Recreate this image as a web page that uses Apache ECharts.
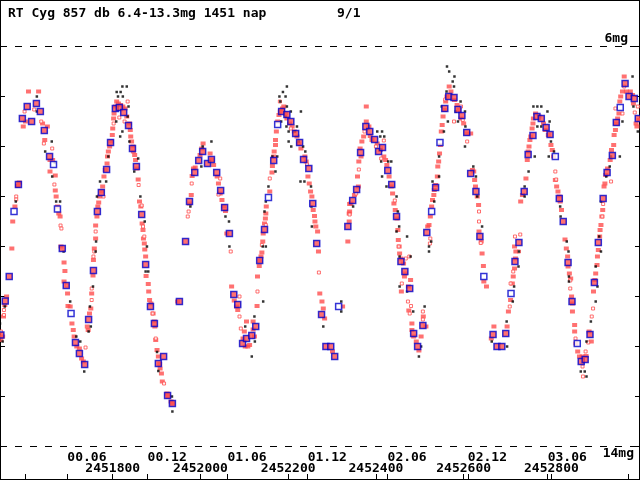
<!DOCTYPE html>
<html lang="en">
<head>
    <meta charset="utf-8">
    <title>RT Cyg</title>
    <script src="https://cdn.jsdelivr.net/npm/echarts@6/dist/echarts.min.js"></script>
    <style>
        body { margin: 0; background: #fff; }
    </style>
</head>
<body>
    <div id="main" style="width: 640px;height:480px;"></div>
    <script>
    // JD values are stored as JD - 2450000
    var JD0 = 2450000;
    var jdMin = 1543, jdMax = 3002;
    var magMin = 5.08, magMax = 14.68;
    var font = "'DejaVu Sans Mono', monospace";

    var jdTicks = [1600, 1800, 2000, 2200, 2400, 2600, 2800];
    var jdLabels = [1800, 2000, 2200, 2400, 2600, 2800];
    var monthTicks = [1696.5, 1879.5, 2061.5, 2244.5, 2426.5, 2609.5, 2791.5, 2974.5];
    var monthLabels = ['00.06', '00.12', '01.06', '01.12', '02.06', '02.12', '03.06'];
    var magTicks = [6, 7, 8, 9, 10, 11, 12, 13, 14];

    // red filled squares
    var redPts = [
        [1545, 11.88], [1549, 11.81], [1551, 11.41], [1554, 11.18], [1558, 11.01], [1570, 10.05], [1572, 9.51],
        [1577, 9.21], [1583, 8.80], [1587, 8.73], [1596, 7.61], [1601, 7.51], [1608, 6.91], [1631, 6.91],
        [1640, 7.55], [1645, 7.88], [1651, 7.61], [1657, 8.28], [1663, 8.28], [1657, 8.51], [1669, 8.59],
        [1669, 8.89], [1671, 9.01], [1674, 9.21], [1677, 9.35], [1680, 9.41], [1682, 10.01], [1689, 10.33],
        [1691, 10.50], [1689, 10.71], [1697, 10.95], [1698, 11.20], [1703, 11.21], [1707, 11.55], [1710, 11.68],
        [1712, 11.81], [1718, 12.01], [1724, 12.05], [1729, 12.25], [1733, 12.31], [1742, 11.61], [1744, 11.68],
        [1747, 11.35], [1750, 11.25], [1752, 10.95], [1755, 10.59], [1756, 10.28], [1758, 10.05], [1761, 9.85],
        [1761, 9.59], [1764, 9.41], [1766, 9.21], [1768, 9.13], [1770, 9.01], [1775, 8.91], [1777, 8.81],
        [1780, 8.61], [1783, 8.48], [1787, 8.35], [1788, 8.21], [1790, 8.11], [1793, 8.01], [1796, 7.91],
        [1799, 7.78], [1800, 7.65], [1802, 7.45], [1803, 7.35], [1806, 7.21], [1809, 7.11], [1813, 7.15],
        [1818, 7.18], [1823, 7.21], [1828, 7.25], [1832, 7.41], [1838, 7.55], [1840, 7.68], [1841, 7.81],
        [1843, 7.91], [1846, 8.01], [1847, 8.11], [1850, 8.18], [1852, 8.28], [1855, 8.45], [1858, 8.67],
        [1861, 9.11], [1864, 9.21], [1867, 9.55], [1869, 9.68], [1870, 9.85], [1872, 9.95], [1873, 10.07],
        [1875, 10.21], [1876, 10.60], [1881, 10.76], [1882, 10.91], [1884, 11.08], [1887, 11.15], [1892, 11.35],
        [1895, 11.51], [1896, 11.61], [1898, 11.88], [1901, 12.08], [1904, 12.21], [1907, 12.36], [1908, 12.45],
        [1911, 12.55], [1913, 12.71], [1924, 12.95], [1927, 13.01], [1933, 13.11], [1936, 13.15],
        [1948, 11.11], [1975, 9.15], [1979, 8.98], [1981, 8.60], [1984, 8.45], [1988, 8.43], [1999, 8.18],
        [2003, 8.05], [2006, 7.95], [2022, 8.15], [2026, 8.28], [2030, 8.38], [2038, 8.61], [2041, 8.75],
        [2045, 8.95], [2049, 9.08], [2053, 9.21], [2057, 9.30], [2060, 9.75], [2071, 10.81], [2077, 11.09],
        [2082, 11.21], [2085, 11.28], [2105, 11.51], [2100, 11.71], [2097, 11.85], [2102, 12.01], [2108, 12.01],
        [2112, 11.98], [2120, 11.51], [2120, 11.67], [2123, 11.81], [2129, 11.20], [2130, 10.61], [2134, 10.40],
        [2136, 10.30], [2138, 10.21], [2140, 10.13], [2142, 9.91], [2143, 9.75], [2146, 9.55], [2148, 9.45],
        [2149, 9.35], [2150, 9.21], [2158, 8.91], [2163, 8.53], [2164, 8.40], [2167, 8.21], [2168, 8.11],
        [2171, 7.98], [2171, 7.88], [2173, 7.71], [2176, 7.51], [2179, 7.38], [2182, 7.31], [2187, 7.25],
        [2190, 7.21], [2194, 7.35], [2197, 7.45], [2203, 7.55], [2209, 7.61], [2214, 7.71], [2220, 7.81],
        [2224, 7.95], [2229, 8.05], [2238, 8.21], [2241, 8.31], [2245, 8.61], [2248, 8.75], [2251, 8.91],
        [2254, 9.01], [2257, 9.28], [2260, 9.40], [2261, 9.51], [2263, 9.61], [2267, 9.71], [2269, 10.11],
        [2272, 10.95], [2277, 11.11], [2280, 11.25], [2283, 11.45], [2301, 12.11], [2324, 11.21], [2336, 9.91],
        [2339, 9.35], [2340, 9.16],
        [2378, 7.21], [2378, 7.51], [2384, 7.61], [2387, 7.80], [2372, 7.81], [2368, 7.91], [2364, 8.05],
        [2366, 8.21], [2361, 8.31], [2358, 8.61], [2360, 8.81], [2351, 8.98], [2343, 9.15], [2340, 9.31],
        [2339, 9.51], [2391, 7.88], [2403, 7.95], [2410, 8.08], [2418, 8.21], [2422, 8.28], [2425, 8.38],
        [2430, 8.61], [2435, 8.81], [2438, 8.95], [2441, 9.15], [2444, 9.28], [2448, 9.45], [2450, 9.68],
        [2451, 9.88], [2453, 10.01], [2454, 10.15], [2457, 10.25], [2463, 10.35], [2467, 10.55], [2465, 10.61],
        [2474, 10.81], [2479, 10.68], [2458, 10.91], [2475, 11.29], [2482, 11.55], [2482, 11.68], [2486, 11.81],
        [2492, 11.91], [2498, 12.09], [2503, 11.81], [2508, 11.41], [2514, 11.61], [2518, 9.61], [2521, 9.58],
        [2524, 9.41], [2527, 9.21], [2529, 9.08], [2532, 8.98], [2533, 8.88], [2536, 8.78], [2540, 8.61],
        [2541, 8.41], [2543, 8.31], [2545, 8.15], [2547, 7.98], [2549, 7.71], [2551, 7.58], [2553, 7.41],
        [2556, 7.28], [2559, 7.11], [2562, 7.01], [2567, 6.81], [2571, 6.91], [2579, 7.08], [2585, 7.18],
        [2589, 7.28], [2594, 7.45], [2600, 7.55], [2608, 7.75], [2616, 7.75], [2620, 8.48], [2623, 8.51],
        [2625, 8.68], [2627, 8.81], [2631, 9.01], [2634, 9.18], [2635, 9.71], [2640, 9.91], [2642, 10.15],
        [2645, 10.40], [2646, 10.71], [2652, 10.81], [2669, 11.61], [2663, 11.85], [2699, 11.61], [2702, 11.31],
        [2707, 11.08],
        [2711, 10.75], [2713, 10.61], [2716, 10.45], [2718, 10.25], [2719, 10.11], [2716, 10.01], [2730, 9.11],
        [2734, 8.98], [2742, 8.65], [2745, 8.28], [2747, 8.11], [2749, 8.01], [2751, 7.88], [2753, 7.81],
        [2756, 7.65], [2758, 7.55], [2759, 7.45], [2764, 7.35], [2772, 7.41], [2782, 7.55], [2786, 7.68],
        [2793, 7.78], [2799, 7.98], [2802, 8.08], [2805, 8.21], [2809, 8.68], [2812, 8.81], [2815, 8.91],
        [2818, 9.01], [2820, 9.11], [2823, 9.28], [2831, 9.87], [2834, 10.05], [2837, 10.21], [2838, 10.41],
        [2841, 10.55], [2844, 10.65], [2846, 11.01], [2848, 11.15], [2848, 11.31], [2853, 11.58], [2853, 11.71],
        [2856, 11.95], [2860, 12.11], [2864, 12.21], [2870, 12.21], [2879, 12.20], [2886, 11.71], [2891, 11.91],
        [2896, 10.91], [2899, 10.68], [2901, 10.55], [2904, 10.38], [2905, 10.21], [2907, 10.08], [2910, 9.81],
        [2911, 9.68], [2913, 9.58], [2915, 9.41], [2917, 9.28], [2920, 8.81], [2922, 8.75], [2924, 8.58],
        [2928, 8.45], [2934, 8.28], [2937, 8.08], [2942, 7.98], [2943, 7.78], [2946, 7.68], [2948, 7.55],
        [2951, 7.45], [2954, 7.35], [2956, 7.11], [2958, 7.01], [2962, 6.91], [2966, 6.61], [2971, 6.91],
        [2980, 6.91], [2985, 6.98], [2987, 7.15], [2993, 7.55], [2995, 7.61], [3000, 7.48]
    ];

    // red open squares
    var redOpen = [
        [1545, 11.71], [1552, 11.28], [1552, 11.38], [1580, 9.01], [1580, 9.07], [1599, 7.31], [1621, 7.27],
        [1637, 7.51], [1643, 7.95], [1662, 8.05], [1667, 8.77], [1681, 9.59], [1683, 9.65], [1695, 10.79],
        [1738, 12.03], [1758, 10.11], [1756, 10.21], [1752, 10.85], [1752, 11.08], [1761, 9.71], [1779, 9.01],
        [1802, 7.55], [1815, 7.43], [1834, 7.11], [1827, 7.51], [1859, 8.78], [1866, 9.19], [1869, 9.61],
        [1872, 9.81], [1891, 11.35], [1898, 11.85], [1917, 12.75],
        [1980, 8.75], [1973, 9.31], [1971, 9.41], [2045, 8.65], [2041, 8.97], [2069, 10.11], [2089, 11.01],
        [2089, 11.41], [2092, 11.65], [2130, 10.91], [2140, 9.98], [2149, 9.58], [2158, 8.65], [2181, 7.11],
        [2206, 7.65], [2243, 8.37], [2270, 10.53],
        [2374, 7.71], [2361, 8.47], [2355, 8.95], [2340, 9.37], [2411, 8.03], [2418, 7.89], [2400, 8.01],
        [2412, 8.25], [2443, 9.09], [2452, 10.01], [2468, 10.25], [2476, 10.21], [2459, 10.75], [2473, 11.11],
        [2480, 11.20], [2477, 11.35], [2507, 11.31], [2507, 11.47], [2523, 9.95], [2524, 9.85], [2558, 7.07],
        [2578, 7.51], [2594, 7.21], [2598, 7.48], [2608, 7.91], [2635, 9.31], [2635, 9.51], [2639, 9.94],
        [2707, 10.75], [2705, 11.21],
        [2713, 10.51], [2717, 9.81], [2729, 9.77], [2726, 10.11], [2809, 8.51], [2811, 8.67], [2843, 10.69],
        [2843, 10.85], [2895, 11.25], [2892, 11.41], [2884, 11.93], [2855, 11.85], [2878, 12.11], [2871, 12.41],
        [2872, 12.61], [2916, 9.41], [2918, 9.16], [2936, 8.71], [2946, 7.25], [2962, 7.35], [2966, 6.81],
        [2990, 7.33], [2997, 7.21]
    ];

    // black dots
    var blackPts = [
        [1822, 6.81], [1832, 6.81], [1809, 6.92], [1818, 6.92], [1812, 7.01], [1823, 7.01], [1627, 7.01],
        [1836, 7.21], [1834, 7.41], [1822, 7.71], [1817, 7.81], [1808, 7.51], [1838, 7.91], [1858, 8.25],
        [1849, 8.51], [1790, 8.21], [1785, 8.71], [1771, 8.71], [1764, 9.01], [1762, 9.91], [1761, 10.11],
        [1755, 10.81], [1748, 11.21], [1750, 11.61], [1745, 11.71], [1726, 11.91], [1735, 12.51], [1661, 7.91],
        [1646, 8.11], [1668, 8.33], [1662, 8.61], [1671, 9.11], [1680, 9.11], [1688, 10.11], [1703, 11.11],
        [1717, 11.81], [1863, 9.01], [1873, 9.51], [1878, 10.01], [1875, 10.51], [1881, 10.51], [1901, 12.12],
        [1904, 12.50], [1936, 13.31], [1935, 13.01], [1554, 11.21], [1543, 11.55], [1549, 11.91], [1579, 9.11],
        [1627, 7.31],
        [2197, 6.81], [2188, 6.92], [2180, 7.01], [2194, 7.01], [2182, 7.11], [2197, 7.21], [2206, 7.31],
        [2229, 7.31], [2194, 7.41], [2184, 7.51], [2196, 7.61], [2220, 7.61], [2201, 7.71], [2215, 7.71],
        [2201, 7.91], [2224, 7.91], [2207, 8.01], [2234, 8.01], [2239, 8.11], [2164, 8.21], [2175, 8.21],
        [2171, 8.51], [2228, 8.71], [2237, 8.71], [2252, 8.81], [2155, 8.81], [2149, 9.11], [2146, 9.31],
        [2149, 10.01], [2142, 10.01], [2143, 11.11], [2123, 11.41], [2102, 11.61], [2124, 11.91], [2117, 12.21],
        [2025, 7.91], [2005, 8.01], [2002, 8.41], [1977, 9.21], [2057, 9.41], [2065, 9.51], [2066, 10.01],
        [2254, 9.61], [2253, 9.21], [2321, 11.11], [2321, 11.31], [2280, 11.61],
        [2562, 6.41], [2567, 6.51], [2579, 6.61], [2575, 6.71], [2578, 6.81], [2561, 6.91], [2593, 7.11],
        [2603, 7.31], [2582, 7.31], [2564, 7.51], [2587, 7.51], [2550, 7.21], [2555, 7.71], [2603, 8.01],
        [2604, 7.61], [2544, 8.21], [2544, 8.61], [2533, 9.11], [2529, 8.71], [2521, 10.01], [2521, 10.11],
        [2526, 9.91], [2403, 7.71], [2414, 7.71], [2410, 7.81], [2419, 7.81], [2412, 8.31], [2428, 8.31],
        [2435, 8.31], [2414, 8.61], [2424, 8.81], [2447, 9.01], [2450, 9.31], [2453, 9.61], [2447, 9.71],
        [2471, 9.81], [2454, 10.21], [2479, 10.21], [2454, 10.81], [2471, 10.91], [2485, 11.31], [2511, 11.21],
        [2503, 12.01], [2498, 12.21], [2348, 9.21], [2622, 8.41], [2628, 8.61], [2631, 9.01], [2642, 9.61],
        [2698, 11.51], [2699, 12.01], [2664, 11.91],
        [2985, 6.61], [2997, 7.71], [2987, 7.21], [2962, 7.51], [2956, 8.21], [2936, 8.21], [2933, 8.41],
        [2925, 8.61], [2913, 9.11], [2909, 9.81], [2913, 10.11], [2901, 10.41], [2905, 10.81], [2901, 11.11],
        [2890, 11.51], [2880, 11.91], [2876, 12.51], [2867, 12.51], [2880, 12.61], [2759, 7.21], [2768, 7.21],
        [2777, 7.21], [2791, 7.31], [2768, 7.61], [2777, 7.61], [2796, 7.51], [2799, 7.91], [2806, 8.11],
        [2762, 8.21], [2794, 8.21], [2748, 8.51], [2739, 8.81], [2739, 9.01], [2820, 9.21], [2821, 9.41],
        [2835, 9.91], [2839, 10.11], [2840, 10.61], [2840, 10.71], [2725, 10.41], [2726, 10.11], [2715, 10.81],
        [2712, 11.11]
    ];

    // blue squares (means), filled and open
    var bluePts = [
        [1545, 11.78], [1555, 11.10], [1564, 10.61], [1585, 8.77], [1594, 7.45], [1605, 7.21], [1615, 7.51],
        [1626, 7.15], [1635, 7.31], [1644, 7.69], [1656, 8.21], [1685, 10.05], [1694, 10.79], [1715, 11.93],
        [1724, 12.15], [1736, 12.37], [1745, 11.47], [1756, 10.49], [1765, 9.31], [1774, 8.93], [1786, 8.47],
        [1795, 7.93], [1806, 7.25], [1815, 7.23], [1825, 7.33], [1836, 7.59], [1845, 8.05], [1854, 8.41],
        [1866, 9.37], [1875, 10.37], [1886, 11.21], [1895, 11.55], [1904, 12.35], [1916, 12.21], [1925, 12.99],
        [1936, 13.15], [1952, 11.11],
        [1966, 9.91], [1975, 9.11], [1987, 8.53], [1996, 8.29], [2005, 8.11], [2016, 8.35], [2025, 8.27],
        [2037, 8.53], [2046, 8.89], [2055, 9.23], [2066, 9.75], [2076, 10.97], [2085, 11.17], [2096, 11.95],
        [2105, 11.85], [2117, 11.79], [2126, 11.61], [2135, 10.29], [2146, 9.67], [2167, 8.29], [2185, 7.31],
        [2197, 7.37], [2206, 7.51], [2217, 7.75], [2226, 7.93], [2235, 8.27], [2247, 8.45], [2256, 9.15],
        [2265, 9.95], [2276, 11.37], [2286, 12.01], [2297, 12.01], [2306, 12.21], [2336, 9.61],
        [2347, 9.09], [2356, 8.87], [2365, 8.13], [2377, 7.61], [2386, 7.71], [2397, 7.87], [2406, 8.11],
        [2415, 8.03], [2427, 8.49], [2436, 8.77], [2447, 9.41], [2457, 10.31], [2466, 10.51], [2477, 10.85],
        [2486, 11.75], [2495, 12.01], [2507, 11.59], [2516, 9.73], [2536, 8.83], [2557, 7.25], [2566, 7.01],
        [2578, 7.03], [2587, 7.27], [2596, 7.39], [2607, 7.73], [2616, 8.55], [2628, 8.91], [2637, 9.81],
        [2667, 11.77], [2676, 12.01], [2687, 12.01], [2696, 11.75],
        [2717, 10.31], [2726, 9.93], [2738, 8.91], [2747, 8.17], [2758, 7.79], [2767, 7.41], [2777, 7.45],
        [2788, 7.63], [2797, 7.77], [2818, 9.05], [2827, 9.51], [2838, 10.33], [2847, 11.11], [2868, 12.31],
        [2877, 12.27], [2888, 11.77], [2898, 10.73], [2907, 9.93], [2918, 9.05], [2927, 8.53], [2939, 8.19],
        [2948, 7.53], [2968, 6.75], [2977, 7.01], [2989, 7.05], [2998, 7.45]
    ];
    var blueOpen = [
        [1575, 9.31], [1665, 8.37], [1674, 9.26], [1705, 11.35], [2155, 9.03], [2176, 7.57], [2315, 11.21],
        [2527, 9.31], [2546, 7.93], [2646, 10.61], [2708, 10.95], [2809, 8.21], [2859, 11.95], [2957, 7.23]
    ];

    function toXY(list) {
        return list.map(function (p) { return [p[0] + JD0, p[1]]; });
    }
    function addJD(list) {
        return list.map(function (v) { return v + JD0; });
    }

    var labelStyle = {
        color: '#000',
        fontFamily: font,
        fontWeight: 'bold',
        fontSize: 13
    };

    var myChart = echarts.init(document.getElementById('main'));
    var option = {
        animation: false,
        backgroundColor: '#fff',
        title: [
            {
                text: 'RT Cyg 857 db 6.4-13.3mg 1451 nap',
                left: 3, top: 2,
                textStyle: labelStyle
            },
            {
                text: '9/1',
                left: 332, top: 2,
                textStyle: labelStyle
            }
        ],
        grid: {
            left: 0, right: 0, top: 0, bottom: 0,
            show: true,
            borderColor: '#000',
            borderWidth: 2
        },
        xAxis: [
            {
                type: 'value',
                min: jdMin + JD0,
                max: jdMax + JD0,
                position: 'bottom',
                axisLine: { show: false },
                splitLine: { show: false },
                axisTick: {
                    inside: true, length: 6,
                    customValues: addJD(jdTicks),
                    lineStyle: { color: '#000' }
                },
                axisLabel: Object.assign({
                    inside: true,
                    margin: 5,
                    customValues: addJD(jdLabels),
                    formatter: function (v) { return String(Math.round(v)); }
                }, labelStyle)
            },
            {
                type: 'value',
                min: jdMin + JD0,
                max: jdMax + JD0,
                position: 'bottom',
                axisLine: { show: false },
                splitLine: { show: false },
                axisTick: {
                    inside: true, length: 6,
                    customValues: addJD(monthTicks),
                    lineStyle: { color: '#000' }
                },
                axisLabel: Object.assign({
                    inside: true,
                    margin: 16,
                    align: 'left',
                    customValues: addJD(monthTicks.slice(0, monthLabels.length)),
                    formatter: function (v) {
                        var best = 0;
                        monthTicks.forEach(function (m, i) {
                            if (Math.abs(m + JD0 - v) < Math.abs(monthTicks[best] + JD0 - v)) best = i;
                        });
                        return monthLabels[best];
                    }
                }, labelStyle)
            }
        ],
        yAxis: [
            {
                type: 'value', inverse: true, min: magMin, max: magMax, position: 'left',
                axisLine: { show: false }, splitLine: { show: false }, axisLabel: { show: false },
                axisTick: { inside: true, length: 5, customValues: magTicks, lineStyle: { color: '#000' } }
            },
            {
                type: 'value', inverse: true, min: magMin, max: magMax, position: 'right',
                axisLine: { show: false }, splitLine: { show: false }, axisLabel: { show: false },
                axisTick: { inside: true, length: 5, customValues: magTicks, lineStyle: { color: '#000' } }
            }
        ],
        series: [
            {
                name: 'red',
                type: 'scatter',
                data: toXY(redPts),
                symbol: 'rect',
                symbolSize: [5, 4],
                itemStyle: { color: '#ff4d4d' },
                silent: true,
                z: 2
            },
            {
                name: 'redOpen',
                type: 'scatter',
                data: toXY(redOpen),
                symbol: 'rect',
                symbolSize: 3,
                itemStyle: { color: '#fff', borderColor: '#ff4d4d', borderWidth: 1 },
                silent: true,
                z: 3
            },
            {
                name: 'visual',
                type: 'scatter',
                data: toXY(blackPts),
                symbol: 'rect',
                symbolSize: 2.5,
                itemStyle: { color: '#000' },
                silent: true,
                z: 4,
                markLine: {
                    silent: true,
                    symbol: 'none',
                    lineStyle: { color: '#000', width: 1, type: [7, 8] },
                    data: [
                        { yAxis: 6, label: Object.assign({ formatter: '6mg', position: 'insideEndTop', distance: [12, 1] }, labelStyle) },
                        { yAxis: 14, label: Object.assign({ formatter: '14mg', position: 'insideEndBottom', distance: [6, 1] }, labelStyle) }
                    ]
                }
            },
            {
                name: 'mean',
                type: 'scatter',
                data: toXY(bluePts),
                symbol: 'rect',
                symbolSize: 6,
                itemStyle: { color: '#ff4d4d', borderColor: '#0000cc', borderWidth: 1.5 },
                silent: true,
                z: 5
            },
            {
                name: 'meanOpen',
                type: 'scatter',
                data: toXY(blueOpen),
                symbol: 'rect',
                symbolSize: 6,
                itemStyle: { color: '#fff', borderColor: '#0000cc', borderWidth: 1.5 },
                silent: true,
                z: 5
            }
        ]
    };
    myChart.setOption(option);
    </script>
</body>
</html>
